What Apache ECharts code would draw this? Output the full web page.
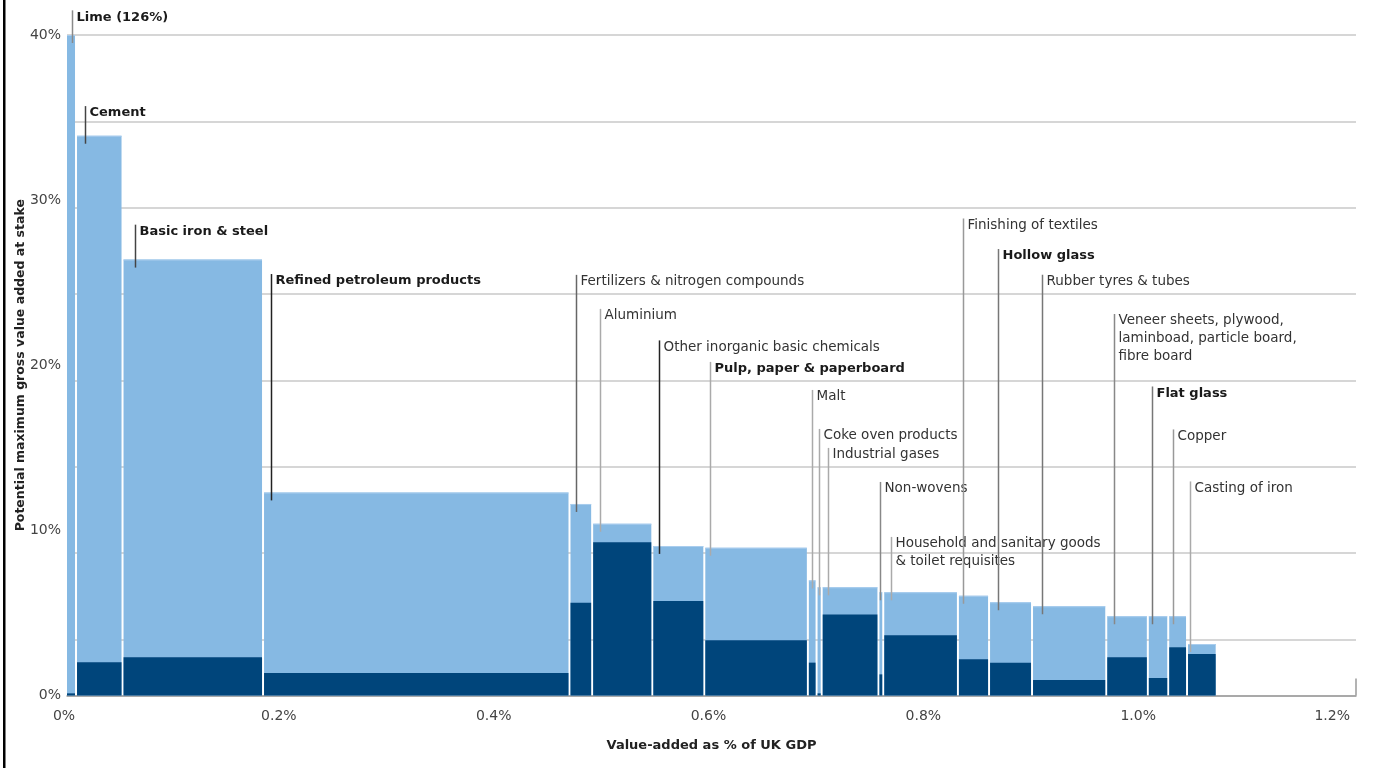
<!DOCTYPE html>
<html>
<head>
<meta charset="utf-8">
<script src="https://cdn.jsdelivr.net/npm/echarts@6/dist/echarts.min.js"></script>
<style>
html,body{margin:0;padding:0;background:#fff;}
#chart{width:1374px;height:768px;}
</style>
</head>
<body>
<div id="chart"></div>
<script>
// ---------- DATA ----------
const sectors = [
  'Lime (126%)', 'Cement', 'Basic iron & steel', 'Refined petroleum products',
  'Fertilizers & nitrogen compounds', 'Aluminium', 'Other inorganic basic chemicals',
  'Pulp, paper & paperboard', 'Malt', 'Coke oven products', 'Industrial gases',
  'Non-wovens', 'Household and sanitary goods\n& toilet requisites', 'Finishing of textiles',
  'Hollow glass', 'Rubber tyres & tubes',
  'Veneer sheets, plywood,\nlaminboad, particle board,\nfibre board',
  'Flat glass', 'Copper', 'Casting of iron'
];
// bar width: value-added as % of UK GDP
const valueAdded = [0.0084, 0.0433, 0.1308, 0.2853, 0.0211, 0.0560, 0.0484, 0.0964, 0.0081, 0.0048,
                    0.0528, 0.0045, 0.0695, 0.0290, 0.0400, 0.0691, 0.0387, 0.0190, 0.0175, 0.0276];
// light bar height: potential maximum GVA at stake (%)
const maxAtStake = [126, 33.9, 26.4, 12.3, 11.6, 10.4, 9.06, 8.95, 6.97, 6.55,
                    6.55, 6.25, 6.25, 6.04, 5.65, 5.40, 4.80, 4.80, 4.80, 3.12];
// dark bar height (%)
const darkAtStake = [0.13, 2.01, 2.31, 1.36, 5.62, 9.28, 5.72, 3.34, 1.99, 0.13,
                     4.91, 1.28, 3.65, 2.19, 1.99, 0.94, 2.31, 1.06, 2.92, 2.51];
const xTicks = [0, 0.2, 0.4, 0.6, 0.8, 1.0, 1.2];
const yTicks = [0, 10, 20, 30, 40];

// ---------- LAYOUT / STYLE (annotations) ----------
const boldLabel = [true, true, true, true, false, false, false, true, false, false,
                   false, false, false, false, true, false, false, true, false, false];
const labelLevel = [41.07, 35.27, 28.09, 25.10, 25.05, 22.99, 21.08, 19.78, 18.08, 15.72,
                    14.57, 12.51, 9.18, 28.47, 26.62, 25.05, 22.68, 18.29, 15.69, 12.54];
const leaderOffsetPx = [4.7, 9, 12.5, 7.7, 7, 8, 7, 6, 4.5, 2.5, 6, 1.6, 7.5, 5.4, 8.7, 10, 8, 4, 5, 3];
const leaderColor = ['#8a8a8a', '#444', '#444', '#222', '#666', '#aaa', '#222', '#aaa', '#aaa', '#aaa',
                     '#aaa', '#888', '#aaa', '#999', '#777', '#777', '#888', '#777', '#999', '#aaa'];

const X_MAX = 1.2, Y_MAX = 40;
const LIGHT = '#86B9E3', DARK = '#00457B';
const FONT = '"DejaVu Sans", sans-serif';

// build table
const rows = [];
let cum = 0;
for (let i = 0; i < sectors.length; i++) {
  rows.push([i, cum, cum + valueAdded[i], maxAtStake[i], darkAtStake[i]]);
  cum += valueAdded[i];
}

function renderBar(params, api) {
  const x0 = api.value(1), x1 = api.value(2);
  const tot = Math.min(api.value(3), Y_MAX), dk = api.value(4);
  const p0 = api.coord([x0, 0]);
  const pt = api.coord([x1, tot]);
  const pd = api.coord([x1, dk]);
  const left = p0[0] + (params.dataIndex === 0 ? 0 : 1);
  const w = Math.max(pt[0] - left - 1, 1);
  return {
    type: 'group',
    children: [
      { type: 'rect', shape: { x: left, y: pt[1], width: w, height: p0[1] - pt[1] },
        style: { fill: LIGHT } },
      { type: 'rect', shape: { x: left, y: pt[1], width: w, height: 1 },
        style: { fill: '#a9cdee' } },
      { type: 'rect', shape: { x: left, y: pd[1], width: w, height: p0[1] - pd[1] },
        style: { fill: DARK } }
    ]
  };
}

function renderLabel(params, api) {
  const i = api.value(0);
  const x0 = api.value(1);
  const tot = Math.min(api.value(3), Y_MAX);
  const base = api.coord([x0, tot]);
  const lvl = api.coord([x0, labelLevel[i]]);
  const lx = Math.round(base[0] + leaderOffsetPx[i]) + 0.5;
  const topY = lvl[1] - 7;
  const botY = base[1] + 8;
  return {
    type: 'group',
    children: [
      { type: 'line', shape: { x1: lx, y1: topY, x2: lx, y2: botY },
        style: { stroke: leaderColor[i], lineWidth: 1.5 } },
      { type: 'text',
        style: {
          x: lx + 4, y: lvl[1] - 9, text: sectors[i],
          fill: boldLabel[i] ? '#1a1a1a' : '#333',
          font: (boldLabel[i] ? 'bold 13px ' : '13.5px ') + FONT,
          align: 'left', verticalAlign: 'top', lineHeight: 18
        } }
    ]
  };
}

function renderAxisEnd(params, api) {
  const p = api.coord([api.value(0), 0]);
  return { type: 'line', shape: { x1: p[0], y1: p[1], x2: p[0], y2: p[1] - 17 },
           style: { stroke: '#9a9a9a', lineWidth: 1.5 } };
}

const chart = echarts.init(document.getElementById('chart'), null, { renderer: 'canvas' });
chart.setOption({
  animation: false,
  backgroundColor: '#fff',
  grid: { left: 67, right: 18, top: 35, bottom: 72.5, containLabel: false, outerBoundsMode: 'none' },
  xAxis: {
    type: 'value', min: xTicks[0], max: X_MAX, interval: 0.2,
    axisLine: { show: true, lineStyle: { color: '#9a9a9a', width: 1.5 } },
    axisTick: { show: false },
    splitLine: { show: false },
    axisLabel: {
      margin: 14, color: '#444', fontFamily: FONT, fontSize: 14,
      alignMaxLabel: 'right', padding: [0, 6, 0, 0],
      formatter: v => (v === 0 ? '0' : v.toFixed(1)) + '%'
    },
    name: 'Value-added as % of UK GDP',
    nameLocation: 'middle', nameGap: 44, nameMoveOverlap: false,
    nameTextStyle: { color: '#222', fontFamily: FONT, fontSize: 13, fontWeight: 'bold' }
  },
  yAxis: [
    {
      type: 'value', min: yTicks[0], max: Y_MAX, interval: 10,
      axisLine: { show: false }, axisTick: { show: false }, splitLine: { show: false },
      axisLabel: { margin: 6, color: '#444', fontFamily: FONT, fontSize: 14, formatter: '{value}%',
                   padding: [5, 0, 0, 0] },
      name: 'Potential maximum gross value added at stake',
      nameLocation: 'middle', nameGap: 40, nameMoveOverlap: false,
      nameTextStyle: { color: '#222', fontFamily: FONT, fontSize: 12.5, fontWeight: 'bold' }
    },
    {
      type: 'value', inverse: true, min: 0, max: 7.65, interval: 1,
      axisLine: { show: false }, axisTick: { show: false }, axisLabel: { show: false },
      splitLine: { show: true, lineStyle: { color: '#c9c9c9', width: 1.5 } }
    }
  ],
  graphic: [
    { type: 'rect', left: 3, top: 0, shape: { width: 2.5, height: 768 }, style: { fill: '#000' } }
  ],
  series: [
    { type: 'custom', name: 'bars', renderItem: renderBar, data: rows,
      encode: { x: [1, 2], y: [3] }, z: 2, silent: true },
    { type: 'custom', name: 'labels', renderItem: renderLabel, data: rows,
      encode: { x: [1, 2], y: [3] }, z: 3, silent: true },
    { type: 'custom', name: 'axisEnd', renderItem: renderAxisEnd, data: [[X_MAX]],
      encode: { x: 0 }, z: 1, silent: true }
  ]
});
</script>
</body>
</html>
